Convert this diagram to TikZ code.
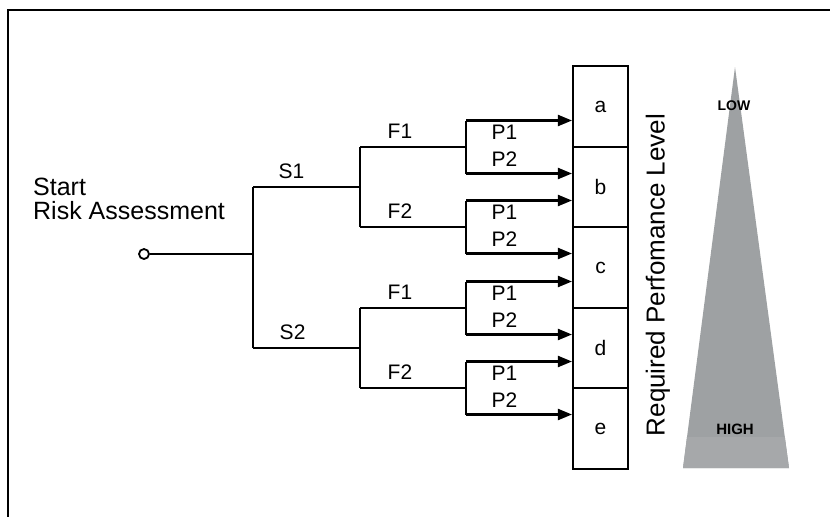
\documentclass[tikz,border=0pt]{standalone}
\usepackage{fontspec}
\setmainfont{Liberation Sans}
\usetikzlibrary{arrows.meta}
\definecolor{plgray}{RGB}{158,161,163}
\definecolor{plband}{RGB}{166,168,170}

\begin{document}
\begin{tikzpicture}[x=1pt, y=-1pt,
		wire/.style={draw=black, line width=2.1pt},
		arr/.style={wire, -{Triangle[length=14pt,width=11pt]}},
		lbl/.style={inner sep=3pt, font=\fontsize{21pt}{24pt}\selectfont},
		box/.style={draw=black, line width=2.1pt, minimum width=55pt, minimum height=80.5pt, inner sep=0pt, font=\fontsize{21pt}{24pt}\selectfont},
		dot/.style={circle, draw=black, line width=1.8pt, fill=white, minimum size=10pt, inner sep=0pt}]
				\useasboundingbox (0,0) rectangle (830,517);
				\draw[line width=2.6pt] (830,10) -- (8,10) -- (8,517);
				
				\node[anchor=north west, align=left, inner sep=0pt, font=\fontsize{25pt}{23.5pt}\selectfont] (sra) at (33,178) {Start\\Risk Assessment};
				
				\node[dot] (st) at (144,254){};
				\coordinate (j0) at (253,254);
				\coordinate (s1) at (253,187);
				\coordinate (s2) at (253,348);
				\coordinate (f1) at (360,187);
				\coordinate (f2) at (360,348);
				\coordinate (f11) at (360,147);
				\coordinate (f12) at (360,227);
				\coordinate (f21) at (360,308);
				\coordinate (f22) at (360,388);
				
				\node[box] (a) at (600.5,106.5){a};
				\node[box] (b) at (600.5,187){b};
				\node[box] (c) at (600.5,267.5){c};
				\node[box] (d) at (600.5,348){d};
				\node[box] (e) at (600.5,428.5){e};
				
				\draw[wire] (st) -- (j0);
				\draw[wire] (s1) -- (s2);
				\draw[wire] (s1) -- node[lbl, above=4pt, pos=0.36]{S1} (f1);
				\draw[wire] (s2) -- node[lbl, above=4pt, pos=0.37]{S2} (f2);
				\draw[wire] (f11) -- (f12);
				\draw[wire] (f21) -- (f22);
				
				\foreach \n/\y/\f/\u/\l in {11/147/1/a/b, 12/227/2/b/c, 21/308/1/c/d, 22/388/2/d/e}{
					\coordinate (q\n) at (466,\y);
					\coordinate (pa\n) at (466,\y-26.5);
					\coordinate (pb\n) at (466,\y+26.5);
					\draw[wire] (f\n) -- node[lbl, above=4pt, pos=0.377]{F\f} (q\n);
					\draw[wire] (pa\n) -- (pb\n);
					\draw[arr] (pa\n) -- node[lbl, below=0pt, pos=0.364]{P1} (pa\n -| \u.west);
					\draw[arr] (pb\n) -- node[lbl, above=3pt, pos=0.364]{P2} (pb\n -| \l.west);
				}
				
				\node[rotate=90, inner sep=0pt, font=\fontsize{26pt}{28pt}\selectfont] (rpl) at (658,275){Required Perfomance Level};
				
				\fill[plgray] (735,67) -- (789,468) -- (683,468) -- cycle;
				\fill[plband] (687,437) -- (784.8,437) -- (789,468) -- (683,468) -- cycle;
				\node[font=\bfseries\fontsize{14pt}{16pt}\selectfont] (low) at (734,106){LOW};
				\node[font=\bfseries\fontsize{15pt}{17pt}\selectfont] (high) at (735,429){HIGH};
				\end{tikzpicture}
\end{document}
